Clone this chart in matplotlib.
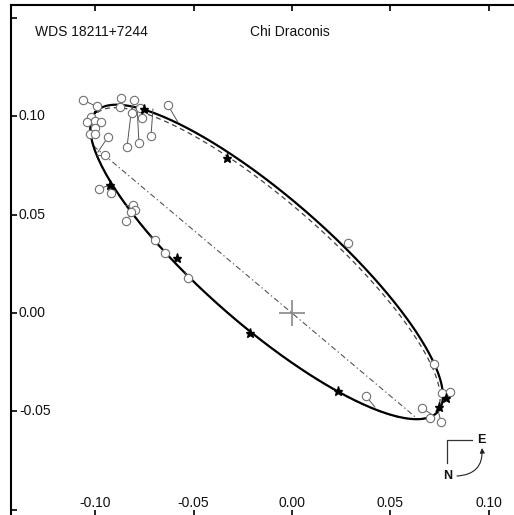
import numpy as np
import matplotlib
matplotlib.use("Agg")
import matplotlib.pyplot as plt
from matplotlib.lines import Line2D

plt.rcParams['font.family'] = ['Liberation Sans', 'DejaVu Sans']

# ---- data (arcsec) ----
# apparent orbit (new solution): centre, semi-axes, orientation
orbit_center = (-0.0129, 0.0260)
orbit_axes = (0.1157, 0.0325)
orbit_angle = 138.84
# previous orbit: slightly narrower, lower edge nearly coincident
prev_shift = 0.0010
prev_axes = (0.1149, 0.0315)
node_angle = 139.9  # deg, direction of line of nodes

obs_x = [-0.1063, -0.0992, -0.0870, -0.0804, -0.0875, -0.0773, -0.0814, -0.0839, -0.0778, -0.0717,
         -0.0631, -0.0763, -0.1022, -0.1043, -0.1002, -0.0971, -0.1002, -0.1027, -0.1002, -0.0936,
         -0.0951, -0.0982, -0.0921, -0.0809, -0.0799, -0.0819, -0.0844, -0.0697, -0.0646, -0.0529,
         0.0376, 0.0661, 0.0702, 0.0758, 0.0763, 0.0804, 0.0722, 0.0285]
obs_y = [0.1083, 0.1053, 0.1093, 0.1083, 0.1048, 0.1043, 0.1017, 0.0844, 0.0865, 0.0900,
         0.1058, 0.0992, 0.0997, 0.0971, 0.0977, 0.0971, 0.0941, 0.0910, 0.0910, 0.0895,
         0.0804, 0.0631, 0.0610, 0.0549, 0.0524, 0.0514, 0.0468, 0.0371, 0.0305, 0.0178,
         -0.0422, -0.0483, -0.0534, -0.0554, -0.0407, -0.0402, -0.0259, 0.0356]
calc_x = [-0.0997, -0.0987, -0.0865, -0.0799, -0.0870, -0.0773, -0.0809, -0.0814, -0.0788, -0.0707,
          -0.0580, -0.0763, -0.1012, -0.1017, -0.1012, -0.1012, -0.1017, -0.1017, -0.1017, -0.0987,
          -0.0992, -0.0926, -0.0926, -0.0849, -0.0834, -0.0829, -0.0819, -0.0722, -0.0656, -0.0544,
          0.0422, 0.0717, 0.0717, 0.0743, 0.0773, 0.0778, 0.0737, 0.0295]
calc_y = [0.1053, 0.1048, 0.1063, 0.1063, 0.1058, 0.1053, 0.1053, 0.1053, 0.1053, 0.1038,
          0.0971, 0.1043, 0.0992, 0.0971, 0.0977, 0.0971, 0.0941, 0.0910, 0.0910, 0.0819,
          0.0804, 0.0651, 0.0641, 0.0549, 0.0524, 0.0514, 0.0504, 0.0392, 0.0320, 0.0209,
          -0.0478, -0.0519, -0.0519, -0.0493, -0.0432, -0.0432, -0.0270, 0.0331]

star_x = [-0.0926, -0.0585, -0.0214, 0.0234, 0.0783, 0.0748, -0.0331, -0.0753]
star_y = [0.0651, 0.0280, -0.0102, -0.0397, -0.0432, -0.0478, 0.0788, 0.1038]

x_ticks = [-0.10, -0.05, 0.00, 0.05, 0.10]
x_ticklabels = ["-0.10", "-0.05", "0.00", "0.05", "0.10"]
y_ticks = [-0.10, -0.05, 0.00, 0.05, 0.10, 0.15]
y_label_vals = [-0.05, 0.00, 0.05, 0.10]
y_ticklabels = ["-0.05", "0.00", "0.05", "0.10"]
title_left = "WDS 18211+7244"
title_right = "Chi Draconis"

# ---- figure ----
W, H = 514, 515
fig = plt.figure(figsize=(W/100, H/100), dpi=100)
xlim = (-0.1429, 0.1429)
ylim = (-0.1033, 0.1567)
scale = 1966.0
aw = (xlim[1]-xlim[0])*scale
ah = (ylim[1]-ylim[0])*scale
ax = fig.add_axes([11/W, 1-(5+ah)/H, aw/W, ah/H])
ax.set_xlim(*xlim)
ax.set_ylim(*ylim)


def ellipse(cx, cy, a, b, angdeg, n=721):
    t = np.linspace(0, 2*np.pi, n)
    th = np.radians(angdeg)
    x = cx + a*np.cos(t)*np.cos(th) - b*np.sin(t)*np.sin(th)
    y = cy + a*np.cos(t)*np.sin(th) + b*np.sin(t)*np.cos(th)
    return x, y


cx, cy = orbit_center
sa, sb = orbit_axes
ex, ey = ellipse(cx, cy, sa, sb, orbit_angle)
ax.plot(ex, ey, color='k', lw=1.6, zorder=4)

th = np.radians(orbit_angle)
u = np.array([np.cos(th), np.sin(th)])
v = np.array([-np.sin(th), np.cos(th)])
nvec = v if v[1] > 0 else -v
px_, py_ = ellipse(cx - prev_shift*nvec[0], cy - prev_shift*nvec[1],
                   prev_axes[0], prev_axes[1], orbit_angle)
ax.plot(px_, py_, color='#444', lw=0.9, dashes=(4, 3), zorder=3)

# line of nodes through the primary, ending on the orbit
dvec = np.array([np.cos(np.radians(node_angle)), np.sin(np.radians(node_angle))])
cc = np.array([cx, cy])
p1 = (dvec @ u)/sa; p0 = -(cc @ u)/sa
q1 = (dvec @ v)/sb; q0 = -(cc @ v)/sb
r1, r2 = np.roots([p1**2 + q1**2, 2*(p1*p0 + q1*q0), p0**2 + q0**2 - 1]).real
ax.plot([r1*dvec[0], r2*dvec[0]], [r1*dvec[1], r2*dvec[1]], color='#555', lw=0.8,
        dashes=(5, 2.5, 1.2, 2.5), zorder=2)

# primary
ax.plot([0], [0], marker='+', ms=19, mew=1.2, color='#888', zorder=5)

# residuals and observations
for ox, oy, qx, qy in zip(obs_x, obs_y, calc_x, calc_y):
    ax.plot([ox, qx], [oy, qy], color='#555', lw=0.7, zorder=5)
ax.plot(obs_x, obs_y, 'o', mfc='white', mec='#707070', ms=6, mew=0.8, zorder=6)
ax.plot(star_x, star_y, '*', color='k', ms=6.5, zorder=7)

# axes styling
for s in ax.spines.values():
    s.set_linewidth(1.5)
ax.set_xticks(x_ticks)
ax.set_yticks(y_ticks)
ax.tick_params(direction='in', length=4, width=1.2, top=True, right=True,
               labelbottom=False, labelleft=False)
for val, lab in zip(x_ticks, x_ticklabels):
    ax.text(val, (313-503)/scale, lab, ha='center', va='center', fontsize=10, color='#111')
for val, lab in zip(y_label_vals, y_ticklabels):
    ax.text((19-292)/scale, val, lab, ha='left', va='center', fontsize=10, color='#111')

fig.text(35/W, 1-32/H, title_left, ha='left', va='center', fontsize=10, color='#111')
fig.text(250/W, 1-32/H, title_right, ha='left', va='center', fontsize=10, color='#111')


# compass
def fp(px, py):
    return px/W, 1-py/H


fig.add_artist(Line2D([447/W, 447/W, 472/W], [1-463/H, 1-440/H, 1-440/H],
                      transform=fig.transFigure, color='#333', lw=0.9))
fig.text(*fp(481, 440), "E", ha='center', va='center', fontsize=9, fontweight='bold', color='#111')
fig.text(*fp(448, 476), "N", ha='center', va='center', fontsize=9, fontweight='bold', color='#111')
ax.annotate('', xy=fp(482, 448), xytext=fp(457, 476), xycoords='figure fraction',
            textcoords='figure fraction',
            arrowprops=dict(arrowstyle='-|>', connectionstyle='arc3,rad=0.5', lw=0.8,
                            color='#222', mutation_scale=7, shrinkA=0, shrinkB=0))

fig.savefig("out.png", dpi=100)
